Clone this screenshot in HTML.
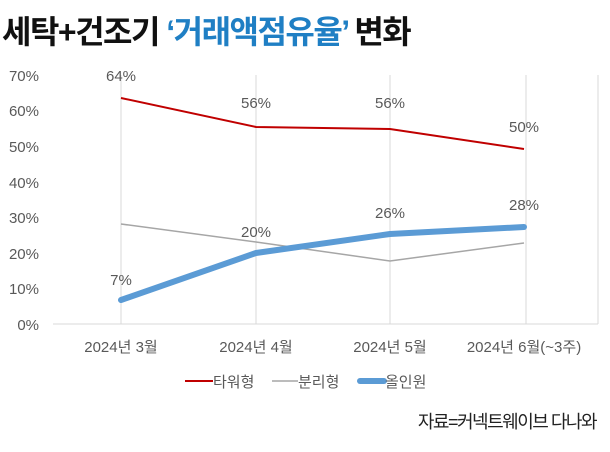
<!DOCTYPE html>
<html><head><meta charset="utf-8"><style>
body{margin:0;background:#fff;width:610px;height:447px;overflow:hidden;font-family:"Liberation Sans","Noto Sans CJK KR",sans-serif}
</style></head><body>
<svg width="610" height="447" xmlns="http://www.w3.org/2000/svg" font-family="Liberation Sans, Noto Sans CJK KR, sans-serif">
<text x="2" y="43" font-size="32" font-weight="bold" fill="#111" letter-spacing="-1.5">세탁+건조기 <tspan fill="#1f7fc4">‘거래액점유율’</tspan> 변화</text>
<g stroke="#d9d9d9" stroke-width="1">
<line x1="53" y1="324" x2="598" y2="324"/>
<line x1="121" y1="75" x2="121" y2="324"/>
<line x1="256" y1="75" x2="256" y2="324"/>
<line x1="390" y1="75" x2="390" y2="324"/>
<line x1="526" y1="75" x2="526" y2="324"/>
<line x1="598" y1="75" x2="598" y2="324"/>
</g>
<g font-size="15" fill="#595959" text-anchor="end">
<text x="39" y="81">70%</text><text x="39" y="116">60%</text><text x="39" y="152">50%</text><text x="39" y="188">40%</text><text x="39" y="223">30%</text><text x="39" y="259">20%</text><text x="39" y="294">10%</text><text x="39" y="330">0%</text>
</g>
<polyline points="121,98 256,127 390,129 524,149" fill="none" stroke="#c00000" stroke-width="2"/>
<polyline points="121,224 256,242 390,261 524,243" fill="none" stroke="#a6a6a6" stroke-width="1.5"/>
<polyline points="121,300 256,253 390,234 524,227" fill="none" stroke="#5b9bd5" stroke-width="6" stroke-linecap="round" stroke-linejoin="round"/>
<g font-size="15" fill="#595959" text-anchor="middle">
<text x="121" y="81">64%</text><text x="256" y="108">56%</text><text x="390" y="108">56%</text><text x="524" y="132">50%</text>
<text x="121" y="285">7%</text><text x="256" y="237">20%</text><text x="390" y="218">26%</text><text x="524" y="210">28%</text>
<text x="121" y="352">2024년 3월</text><text x="256" y="352">2024년 4월</text><text x="390" y="352">2024년 5월</text><text x="524" y="352">2024년 6월(~3주)</text>
</g>
<line x1="185" y1="381" x2="213" y2="381" stroke="#c00000" stroke-width="2"/>
<text x="213" y="387" font-size="15" fill="#595959">타워형</text>
<line x1="272" y1="381" x2="298" y2="381" stroke="#a6a6a6" stroke-width="1.5"/>
<text x="298" y="387" font-size="15" fill="#595959">분리형</text>
<line x1="360" y1="381" x2="384" y2="381" stroke="#5b9bd5" stroke-width="6" stroke-linecap="round"/>
<text x="385" y="387" font-size="15" fill="#595959">올인원</text>
<text x="596" y="428" font-size="18" fill="#222" text-anchor="end" letter-spacing="-1.5">자료=커넥트웨이브 다나와</text>
</svg>
</body></html>
